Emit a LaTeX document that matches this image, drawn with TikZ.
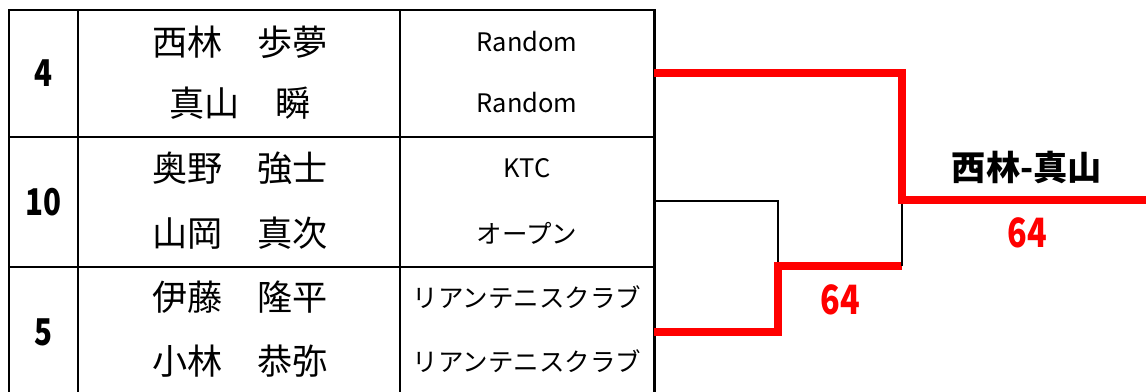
\documentclass[tikz,border=0pt]{standalone}
\usepackage{fontspec}
\setmainfont{Noto Sans CJK JP}
\newfontfamily\numfont[FakeStretch=0.8]{Noto Sans CJK JP}
\usetikzlibrary{positioning,calc}

\begin{document}
\begin{tikzpicture}[
				x=0.02cm,y=0.02cm,
				line cap=butt,line join=miter,
				namecell/.style={font=\fontsize{20}{20}\selectfont, inner sep=0pt},
				clubcell/.style={font=\fontsize{14.5}{14.5}\selectfont, inner sep=0pt},
				seedcell/.style={font=\numfont\bfseries\fontsize{21}{21}\selectfont, inner sep=0pt},
				scorelbl/.style={font=\numfont\bfseries\fontsize{23}{23}\selectfont, text=red, inner sep=0pt},
				winnerlbl/.style={font=\bfseries\fontsize{19.5}{19.5}\selectfont, inner sep=0pt},
				tableline/.style={black, line width=1.7pt},
				winline/.style={red, line width=4pt},
				loseline/.style={black, line width=1.5pt}
				]
				\useasboundingbox (0,0) rectangle (1146,392);
				%----- parameters
				\def\colA{9}       % left edge
				\def\colB{78}      % seed | name
				\def\colC{400}     % name | club
				\def\colD{654}     % right edge
				\def\tTop{382}
				
				%----- table (bottom edge runs off the page)
				\draw[tableline] (\colA,-5) rectangle (\colD,\tTop);
				\draw[tableline] (\colB,-5) -- (\colB,\tTop);
				\draw[tableline] (\colC,-5) -- (\colC,\tTop);
				\foreach \y in {255,125}{
					\draw[tableline] (\colA,\y) -- (\colD,\y);
				}
				
				%----- seeds
				\node[seedcell] (s4)  at (43,319) {4};
				\node[seedcell] (s10) at (43,190) {10};
				\node[seedcell] (s5)  at (43,60)  {5};
				
				%----- players
				\node[namecell] (p1) at (240,350) {西林　歩夢};
				\node[namecell] (p2) at (240,289) {真山　瞬};
				\node[namecell] (p3) at (240,224) {奥野　強士};
				\node[namecell] (p4) at (240,159) {山岡　真次};
				\node[namecell] (p5) at (240,95)  {伊藤　隆平};
				\node[namecell] (p6) at (240,31)  {小林　恭弥};
				
				%----- clubs
				\node[clubcell] (c1) at (527,350) {Random};
				\node[clubcell] (c2) at (527,289) {Random};
				\node[clubcell] (c3) at (527,224) {KTC};
				\node[clubcell] (c4) at (527,159) {オープン};
				\node[clubcell] (c5) at (527,95)  {リアンテニスクラブ};
				\node[clubcell] (c6) at (527,31)  {リアンテニスクラブ};
				
				%----- bracket points
				\coordinate (pairA) at (\colD,319);
				\coordinate (pairB) at (\colD,191);
				\coordinate (pairC) at (\colD,60);
				\coordinate (semiJ) at (778,126);
				\coordinate (finJ)  at (902,192);
				\coordinate (champ) at (1146,192);
				
				% first round: pairB vs pairC
				\draw[loseline] (pairB) -| (semiJ);
				\draw[winline]  (pairC) -| (semiJ) -- (semiJ -| finJ);
				
				% final: pairA vs winner of first round
				\draw[loseline] (semiJ -| finJ) -- (finJ);
				\draw[winline]  (pairA) -| (finJ) -- (champ);
				
				%----- results
				\node[scorelbl] (sc1) at (840,92) {64};
				\node[winnerlbl] (win) at (1027,224) {西林-真山};
				\node[scorelbl] (sc2) at (1027,159) {64};
				
			\end{tikzpicture}
\end{document}
